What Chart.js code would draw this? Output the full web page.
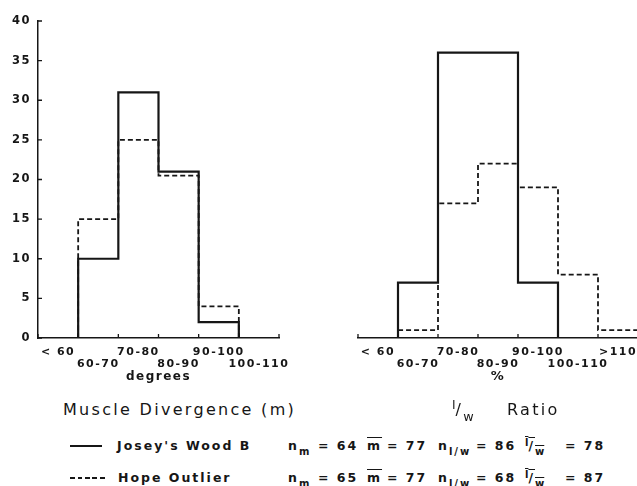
<!DOCTYPE html>
<html>
<head>
<meta charset="utf-8">
<title>Muscle Divergence and l/w Ratio</title>
<script src="https://cdn.jsdelivr.net/npm/chart.js@4.4.1/dist/chart.umd.min.js"></script>
<style>
  html, body { margin: 0; padding: 0; background: #fff; }
  body {
    width: 637px; height: 486px; overflow: hidden; position: relative;
    font-family: 'DejaVu Sans', sans-serif; color: #161616;
  }
  canvas { position: absolute; top: 0; }
  #divChart { left: 0; }
  #ratioChart { left: 320px; }
  .cap { position: absolute; top: 400px; font-size: 16px; letter-spacing: 2.3px; line-height: 20px; white-space: nowrap; }
  .leg { position: absolute; font-size: 12.5px; font-weight: bold; letter-spacing: 2px; line-height: 16px; white-space: nowrap; }
  .row1 { top: 438px; }
  .row2 { top: 470px; }
  .solid { position: absolute; left: 70px; width: 32px; height: 2px; background: #161616; }
  .dash { position: absolute; left: 70px; width: 36px; height: 2px;
          background: repeating-linear-gradient(to right, #161616 0 4.5px, transparent 4.5px 7.5px); }
  sub { font-size: 0.8em; vertical-align: -0.45em; line-height: 0; }
  sup { font-size: 0.8em; vertical-align: 0.45em; line-height: 0; }
  .ov { text-decoration: overline; }
  .frac sub, .frac sup { letter-spacing: 0; }
</style>
</head>
<body>
<canvas id="divChart" width="300" height="400"></canvas>
<canvas id="ratioChart" width="330" height="400"></canvas>

<div class="cap" style="left:63px;">Muscle Divergence (m)</div>
<div class="cap" style="left:452px;"><span class="frac"><sup>l</sup>/<sub>w</sub></span></div>
<div class="cap" style="left:507px;">Ratio</div>

<div class="solid" style="top:445px;"></div>
<div class="leg row1" style="left:117px;">Josey's Wood B</div>
<div class="leg row1" style="left:288px;">n<sub>m</sub></div>
<div class="leg row1" style="left:318px;">= 64</div>
<div class="leg row1" style="left:367px;"><span class="ov">m</span></div>
<div class="leg row1" style="left:387px;">= 77</div>
<div class="leg row1" style="left:438px;">n<sub class="frac">l/w</sub></div>
<div class="leg row1" style="left:476px;">= 86</div>
<div class="leg row1" style="left:525px;"><span class="ov frac"><sup>l</sup>/<sub>w</sub></span></div>
<div class="leg row1" style="left:565px;">= 78</div>

<div class="dash" style="top:477px;"></div>
<div class="leg row2" style="left:118px;">Hope Outlier</div>
<div class="leg row2" style="left:288px;">n<sub>m</sub></div>
<div class="leg row2" style="left:318px;">= 65</div>
<div class="leg row2" style="left:367px;"><span class="ov">m</span></div>
<div class="leg row2" style="left:387px;">= 77</div>
<div class="leg row2" style="left:438px;">n<sub class="frac">l/w</sub></div>
<div class="leg row2" style="left:476px;">= 68</div>
<div class="leg row2" style="left:525px;"><span class="ov frac"><sup>l</sup>/<sub>w</sub></span></div>
<div class="leg row2" style="left:565px;">= 87</div>

<script>
// bins and counts
const divBins = ['< 60', '60-70', '70-80', '80-90', '90-100', '100-110'];
const divJosey = [0, 10, 31, 21, 2, 0];
const divHope = [0, 15, 25, 20.5, 4, 0];

const ratioBins = ['< 60', '60-70', '70-80', '80-90', '90-100', '100-110', '>110'];
const ratioJosey = [0, 7, 36, 36, 7, 0, 0];
const ratioHope = [0, 1, 17, 22, 19, 8, 1];

const countMax = 40;
const countStep = 5;

const INK = '#161616';

Chart.defaults.font.family = "'DejaVu Sans', sans-serif";
Chart.defaults.color = INK;

// histogram outline: one point per bin edge, drawn as a step line
function outline(counts) {
    const pts = [{ x: 0, y: 0 }];
    counts.forEach((c, k) => pts.push({ x: k + 1, y: c }));
    pts.push({ x: counts.length, y: 0 });
    return pts;
}

// labels alternate between two rows, like the original
function stagger(bins) {
    return bins.map((b, i) => i % 2 ? ['', b] : [b, '']);
}

// the old drawings have widely spaced lettering
const spacedText = {
    id: 'spacedText',
    beforeDraw(chart) { chart.ctx.letterSpacing = '1.5px'; }
};

// short tick marks pointing into the plot
const inwardTicks = {
    id: 'inwardTicks',
    afterDraw(chart) {
        const { ctx, chartArea } = chart;
        const edges = chart.scales.xEdge;
        const y = chart.scales.y;
        ctx.save();
        ctx.strokeStyle = INK;
        ctx.lineWidth = 1.3;
        ctx.beginPath();
        for (let k = edges.min; k <= edges.max; k++) {
            const px = edges.getPixelForValue(k);
            ctx.moveTo(px, chartArea.bottom);
            ctx.lineTo(px, chartArea.bottom - 4);
        }
        if (y.options.display) {
            y.ticks.forEach(t => {
                const py = y.getPixelForValue(t.value);
                ctx.moveTo(chartArea.left, py);
                ctx.lineTo(chartArea.left + 4, py);
            });
        }
        ctx.stroke();
        ctx.restore();
    }
};

function histogram(id, bins, josey, hope, unit, unitSize, showY, padding) {
    const ctx = document.getElementById(id).getContext('2d');
    return new Chart(ctx, {
        type: 'line',
        data: {
            labels: stagger(bins),
            datasets: [{
                label: "Josey's Wood B",
                data: outline(josey),
                xAxisID: 'xEdge',
                borderColor: INK,
                borderWidth: 2.2,
                stepped: 'after',
                pointRadius: 0,
                fill: false
            }, {
                label: 'Hope Outlier',
                data: outline(hope),
                xAxisID: 'xEdge',
                borderColor: INK,
                borderWidth: 1.8,
                borderDash: [5, 3],
                stepped: 'after',
                pointRadius: 0,
                fill: false
            }]
        },
        options: {
            responsive: false,
            animation: false,
            layout: { padding: padding },
            plugins: {
                legend: { display: false },
                tooltip: { enabled: false }
            },
            scales: {
                x: {
                    type: 'category',
                    offset: true,
                    grid: { display: false, drawTicks: false },
                    border: { color: INK, width: 1.5 },
                    ticks: {
                        autoSkip: false, maxRotation: 0, padding: 8,
                        font: { size: 11, weight: 'bold', lineHeight: 1.1 }
                    },
                    title: {
                        display: true, text: unit,
                        font: { size: unitSize, weight: 'bold', lineHeight: 1 },
                        padding: { top: 0, bottom: 1 }
                    },
                    afterFit(s) { s.height = 46; }
                },
                xEdge: {
                    type: 'linear', axis: 'x', position: 'bottom',
                    display: false, min: 0, max: bins.length
                },
                y: {
                    display: showY,
                    min: 0, max: countMax,
                    grid: { display: false, drawTicks: false },
                    border: { color: INK, width: 1.5 },
                    ticks: {
                        stepSize: countStep, padding: 7,
                        font: { size: 11.5, weight: 'bold' }
                    },
                    afterFit(s) { if (showY) s.width = 38; }
                }
            }
        },
        plugins: [spacedText, inwardTicks]
    });
}

histogram('divChart', divBins, divJosey, divHope, 'degrees', 12, true,
    { left: 0, right: 21, top: 21, bottom: 16 });
histogram('ratioChart', ratioBins, ratioJosey, ratioHope, '%', 13, false,
    { left: 38, right: 12, top: 21, bottom: 16 });
</script>
</body>
</html>
